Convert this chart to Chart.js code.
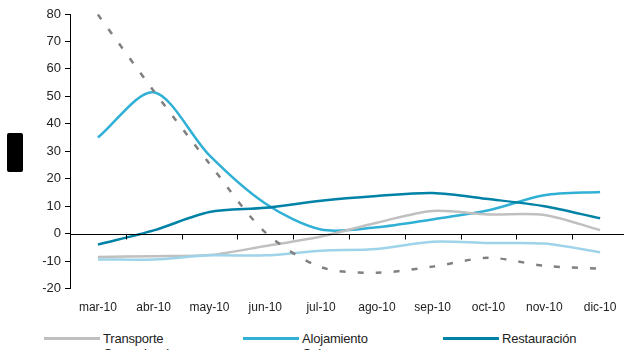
<!DOCTYPE html>
<html>
<head>
<meta charset="utf-8">
<script src="https://cdn.jsdelivr.net/npm/chart.js@4.4.1/dist/chart.umd.min.js"></script>
<style>
  html, body { margin:0; padding:0; background:#fff; overflow:hidden; width:624px; height:350px; }
  #wrap { position:absolute; left:0; top:0; width:640px; height:327px; }
  #redact { position:absolute; left:7px; top:133px; width:16px; height:39px; background:#000; border-radius:2px; }
  .leg { position:absolute; font-family:"Liberation Sans", Arial, sans-serif; font-size:13px; color:#222; white-space:nowrap; letter-spacing:-0.2px; }
  .leg span.ln { display:inline-block; width:56px; height:0; border-top:3px solid; vertical-align:middle; margin-right:3px; position:relative; top:-1px; }
</style>
</head>
<body>
<div id="wrap"><canvas id="c" width="640" height="327"></canvas></div>
<div id="redact"></div>
<div id="legend"></div>
<script>
const categories = ['mar-10','abr-10','may-10','jun-10','jul-10','ago-10','sep-10','oct-10','nov-10','dic-10'];
const transporte    = [-8.5, -8.2, -7.8, -4.5, -1.0, 4.0, 8.3, 7.0, 6.8, 1.3];
const alojamiento   = [35.0, 51.5, 28.5, 11.0, 1.5, 2.3, 5.2, 8.5, 14.0, 15.2];
const restauracion  = [-4.0, 1.2, 7.9, 9.4, 12.0, 13.7, 14.8, 12.6, 10.0, 5.6];
const comunicaciones= [79.8, 52.0, 25.5, 0.5, -12.2, -14.2, -12.0, -8.8, -11.7, -12.8];
const ocio          = [-9.4, -9.4, -7.9, -7.9, -6.2, -5.6, -2.9, -3.4, -3.6, -6.8];
const yTicks = [80, 70, 60, 50, 40, 30, 20, 10, 0, -10, -20];
const seriesNames = ['Transporte','Alojamiento','Restauración','Comunicaciones','Ocio'];

const colors = ['#C0C0C0', '#31B0D5', '#0082A6', '#808080', '#9FD3EA'];

const zeroAxis = {
  id: 'zeroAxis',
  afterDatasetsDraw(chart) {
    const {ctx, chartArea, scales} = chart;
    const x = scales.x, y = scales.y;
    const y0 = Math.round(y.getPixelForValue(0)) + 0.5;
    ctx.save();
    ctx.strokeStyle = '#000';
    ctx.lineWidth = 1;
    ctx.beginPath();
    ctx.moveTo(chartArea.left, y0);
    ctx.lineTo(chartArea.right, y0);
    const n = categories.length;
    const step = x.getPixelForValue(1) - x.getPixelForValue(0);
    for (let i = 0; i <= n; i++) {
      let px = (i < n) ? x.getPixelForValue(i) - step / 2 : x.getPixelForValue(n - 1) + step / 2;
      px = Math.round(px) + 0.5;
      ctx.moveTo(px, y0);
      ctx.lineTo(px, y0 + 5);
    }
    ctx.stroke();
    ctx.restore();
  }
};

const dataArrays = [transporte, alojamiento, restauracion, comunicaciones, ocio];
const order = [3, 4, 0, 2, 1];
const datasets = order.map(i => ({
  label: seriesNames[i],
  data: dataArrays[i],
  borderColor: colors[i],
  backgroundColor: colors[i],
  borderWidth: 2.5,
  borderDash: i === 3 ? [6, 12] : [],
  borderCapStyle: 'butt',
  pointRadius: 0,
  tension: 0.3,
  fill: false
}));

new Chart(document.getElementById('c'), {
  type: 'line',
  data: { labels: categories, datasets },
  options: {
    responsive: false,
    animation: false,
    layout: { padding: { left: 0, right: 12, top: 14, bottom: 0 } },
    plugins: { legend: { display: false }, tooltip: { enabled: false } },
    scales: {
      x: {
        offset: true,
        grid: { display: false, drawTicks: false },
        border: { display: false },
        ticks: { color: '#222', font: { family: 'Liberation Sans, Arial', size: 12 }, padding: 12, maxRotation: 0, autoSkip: false }
      },
      y: {
        min: -20, max: 80,
        afterBuildTicks(scale) { scale.ticks = yTicks.map(v => ({ value: v })); },
        grid: { drawOnChartArea: false, drawTicks: true, tickLength: 5, color: '#000' },
        border: { display: true, color: '#000', width: 1 },
        ticks: { color: '#222', font: { family: 'Liberation Sans, Arial', size: 13 }, padding: 4 },
        afterFit(scale) { scale.width = 70; }
      }
    }
  },
  plugins: [zeroAxis]
});

const legendPos = [
  { i: 0, left: 44, top: 331 },
  { i: 1, left: 243, top: 331 },
  { i: 2, left: 443, top: 331 },
  { i: 3, left: 44, top: 346 },
  { i: 4, left: 243, top: 346 }
];
const legendDiv = document.getElementById('legend');
legendPos.forEach(p => {
  const d = document.createElement('div');
  d.className = 'leg';
  d.style.left = p.left + 'px';
  d.style.top = p.top + 'px';
  const ln = document.createElement('span');
  ln.className = 'ln';
  ln.style.borderTopColor = colors[p.i];
  if (p.i === 3) ln.style.borderTopStyle = 'dashed';
  d.appendChild(ln);
  d.appendChild(document.createTextNode(seriesNames[p.i]));
  legendDiv.appendChild(d);
});
</script>
</body>
</html>
